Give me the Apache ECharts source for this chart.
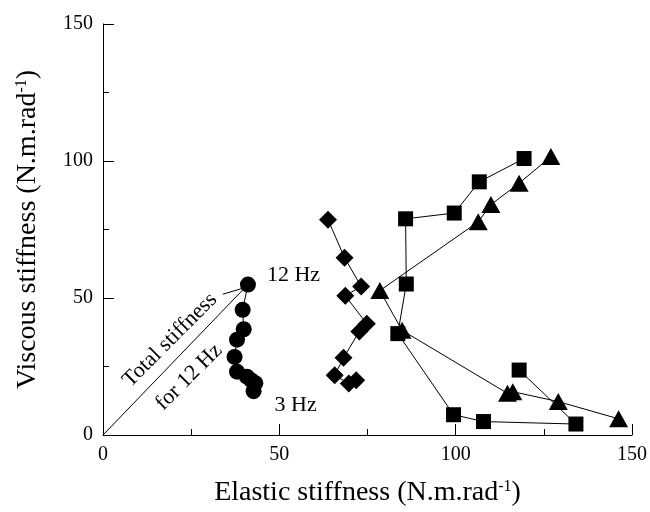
<!DOCTYPE html>
<html>
<head>
<meta charset="utf-8">
<script src="https://cdn.jsdelivr.net/npm/echarts@6/dist/echarts.min.js"></script>
<style>
  html, body { margin: 0; padding: 0; background: #fff; }
  #chart { width: 650px; height: 512px; }
</style>
</head>
<body>
<div id="chart"></div>
<script>
// values, 12 Hz first, 3 Hz last
const circleX = [41.1, 39.6, 39.9, 38.0, 37.3, 38.0, 40.8, 42.0, 43.2, 42.7];
const circleY = [54.9, 45.7, 38.6, 34.8, 28.5, 23.1, 21.3, 20.0, 18.9, 16.0];
const diamondX = [63.8, 68.5, 73.2, 68.7, 74.8, 72.7, 68.2, 65.7, 69.7, 71.8];
const diamondY = [78.6, 64.7, 54.2, 50.8, 40.6, 37.8, 28.2, 21.8, 18.8, 20.0];
const squareX = [119.4, 106.7, 99.6, 85.8, 86.0, 83.6, 99.4, 107.9, 134.1, 118.0];
const squareY = [100.9, 92.4, 81.0, 78.9, 55.1, 37.0, 7.4, 4.9, 4.0, 23.7];
const triX = [127.0, 118.0, 110.0, 106.4, 78.5, 84.8, 114.7, 116.2, 129.1, 146.2];
const triY = [101.6, 91.9, 84.1, 77.8, 52.7, 38.2, 15.2, 15.8, 12.2, 5.9];
const totalLine = [[0, 0], [41.1, 54.9]];
const pointerLine = [[34.0, 51.4], [39.5, 53.5]];
const axisTicks = [0, 50, 100, 150];

const font = 'Liberation Serif, Times New Roman, serif';
const pairs = (xs, ys) => xs.map((x, i) => [x, ys[i]]);

function makeAxis(name, gap, rotate) {
    return {
        type: 'value',
        min: axisTicks[0],
        max: axisTicks[axisTicks.length - 1],
        interval: 50,
        name: '{a|' + name + '}{s|-1}{a|)}',
        nameLocation: 'middle',
        nameGap: gap,
        nameRotate: rotate,
        nameTextStyle: {
            rich: {
                a: { fontFamily: font, fontSize: 28, color: '#000' },
                s: { fontFamily: font, fontSize: 16, color: '#000', verticalAlign: 'top', padding: [0, 0, 10, 0] }
            }
        },
        splitLine: { show: false },
        axisLine: { lineStyle: { color: '#000', width: 1 } },
        axisTick: { inside: true, length: 11, lineStyle: { color: '#000' } },
        minorTick: { show: true, splitNumber: 2, length: 6, lineStyle: { color: '#000' } },
        axisLabel: { fontFamily: font, fontSize: 20, color: '#000', margin: 10 }
    };
}

function lineSeries(data, symbol, size) {
    return {
        type: 'line',
        data: data,
        symbol: symbol,
        symbolSize: size,
        showSymbol: true,
        animation: false,
        lineStyle: { color: '#000', width: 1 },
        itemStyle: { color: '#000' }
    };
}

const chart = echarts.init(document.getElementById('chart'));
const circles = lineSeries(pairs(circleX, circleY), 'circle', 16);
circles.data = circles.data.map((p, i) => {
    if (i === 0) return { value: p, label: { show: true, formatter: '12 Hz', position: 'right', offset: [6, -9], fontFamily: font, fontSize: 22, color: '#000' } };
    if (i === circleX.length - 1) return { value: p, label: { show: true, formatter: '3 Hz', position: 'right', offset: [8, 14], fontFamily: font, fontSize: 22, color: '#000' } };
    return p;
});

chart.setOption({
    animation: false,
    grid: { left: 103, right: 17, top: 24, bottom: 75 },
    xAxis: makeAxis('Elastic stiffness (N.m.rad', 44, 0),
    yAxis: makeAxis('Viscous stiffness (N.m.rad', 61, 90),
    series: [
        lineSeries(totalLine, 'none', 0),
        lineSeries(pointerLine, 'none', 0),
        circles,
        lineSeries(pairs(diamondX, diamondY), 'diamond', 18),
        lineSeries(pairs(squareX, squareY), 'rect', 15),
        lineSeries(pairs(triX, triY), 'triangle', [19, 17])
    ],
    graphic: [
        { type: 'text', x: 170, y: 340, rotation: Math.PI / 4,
          style: { text: 'Total stiffness', fontFamily: font, fontSize: 22, fill: '#000', align: 'center', verticalAlign: 'middle' } },
        { type: 'text', x: 189, y: 377, rotation: Math.PI / 4,
          style: { text: 'for 12 Hz', fontFamily: font, fontSize: 22, fill: '#000', align: 'center', verticalAlign: 'middle' } }
    ]
});
</script>
</body>
</html>
